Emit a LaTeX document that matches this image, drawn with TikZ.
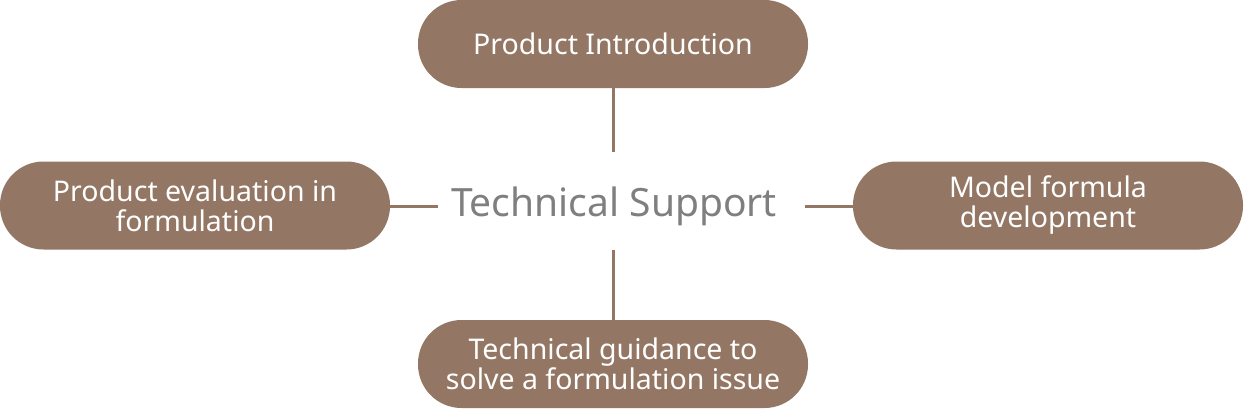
\documentclass[tikz,border=0pt]{standalone}
\usepackage{fontspec}
\setmainfont{Noto Sans}
\definecolor{pillbrown}{HTML}{937764}
\definecolor{hubgray}{HTML}{7F7F7F}
\tikzset{
  pill/.style={fill=pillbrown, rounded corners=43.5pt, minimum width=390pt,
    minimum height=88pt, inner sep=0pt, text=white, align=center,
    font=\fontsize{28.5}{30}\selectfont},
  link/.style={draw=pillbrown, line width=3pt}
}
\begin{document}
\begin{tikzpicture}[x=1pt,y=-1pt]
  \useasboundingbox (0,0) rectangle (1244,408);

  \node[pill] (intro) at (613,44) {Product Introduction};
  \node[pill] (eval) at (195,205.5) {Product evaluation in\\formulation};
  \node[pill] (model) at (1048,205.5) {Model formula\\development};
  \node[pill] (guide) at (613,364) {Technical guidance to\\solve a formulation issue};

  \node[text=hubgray, font=\fontsize{39}{40}\selectfont] (hub) at (614,206) {Technical Support};

  \coordinate (hubN) at (613,152);
  \coordinate (hubS) at (613,250);
  \coordinate (hubW) at (438,206);
  \coordinate (hubE) at (805,206);

  \draw[link] (intro.south) -- (hubN);
  \draw[link] (hubS) -- (guide.north);
  \draw[link] (eval.east |- hubW) -- (hubW);
  \draw[link] (hubE) -- (model.west |- hubE);
\end{tikzpicture}
\end{document}
